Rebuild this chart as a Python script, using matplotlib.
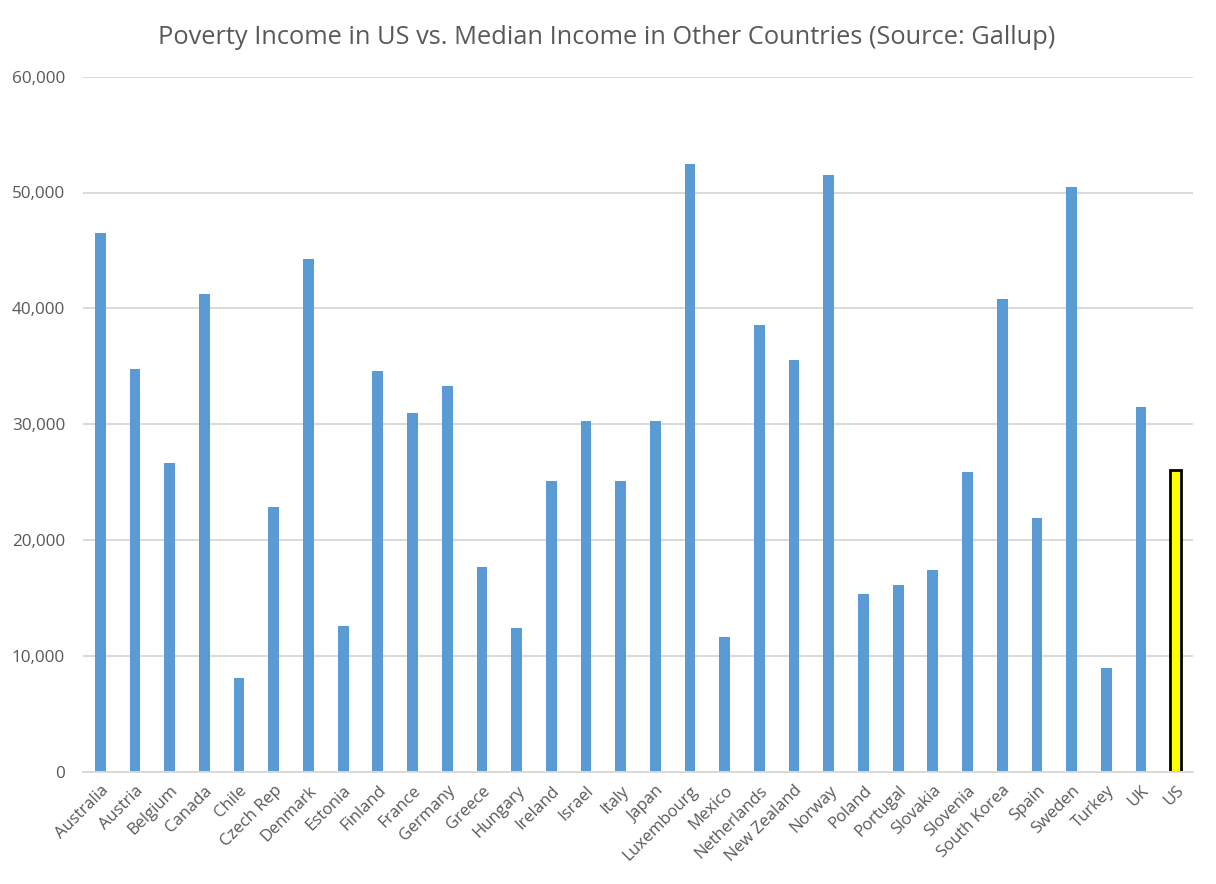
import matplotlib
matplotlib.use("Agg")
import matplotlib.pyplot as plt
import numpy as np

countries = ["Australia", "Austria", "Belgium", "Canada", "Chile", "Czech Rep", "Denmark",
             "Estonia", "Finland", "France", "Germany", "Greece", "Hungary", "Ireland",
             "Israel", "Italy", "Japan", "Luxembourg", "Mexico", "Netherlands", "New Zealand",
             "Norway", "Poland", "Portugal", "Slovakia", "Slovenia", "South Korea", "Spain",
             "Sweden", "Turkey", "UK", "US"]
incomes = [46500, 34800, 26600, 41200, 8100, 22800, 44300,
           12600, 34600, 31000, 33300, 17700, 12400, 25100,
           30300, 25100, 30300, 52500, 11600, 38600, 35500,
           51500, 15300, 16100, 17400, 25900, 40800, 21900,
           50500, 8900, 31500, 26000]
highlight = "US"

yticks = [0, 10000, 20000, 30000, 40000, 50000, 60000]
title = "Poverty Income in US vs. Median Income in Other Countries (Source: Gallup)"

plt.rcParams['font.family'] = ['Open Sans', 'DejaVu Sans']
txt = "#595959"
grid = "#d9d9d9"

fig = plt.figure(figsize=(12.16, 8.84), dpi=100)
ax = fig.add_axes([83/1216, 112.5/884, (1193-83)/1216, (771.5-76.7)/884])

x = np.arange(len(countries))
colors = ["#ffff00" if c == highlight else "#5b9bd5" for c in countries]
edges = ["black" if c == highlight else "none" for c in countries]
lws = [2 if c == highlight else 0 for c in countries]
ax.bar(x, incomes, width=0.31, color=colors, edgecolor=edges, linewidth=lws, zorder=3)

ax.set_xlim(-0.5, len(countries) - 0.5)
ax.set_ylim(0, 60000)
ax.set_yticks(yticks)
ax.set_yticklabels([f"{v:,}" for v in yticks])
ax.yaxis.grid(True, color=grid, linewidth=1.4, zorder=0)
ax.set_axisbelow(True)
for s in ["top", "right", "left"]:
    ax.spines[s].set_visible(False)
ax.spines["bottom"].set_color(grid)
ax.spines["bottom"].set_linewidth(1.4)
ax.spines["bottom"].set_zorder(4)

ax.set_xticks(x)
ax.set_xticklabels(countries, rotation=45, ha="right", rotation_mode="anchor")
ax.tick_params(axis="x", length=0, pad=8, labelsize=12, labelcolor=txt)
ax.tick_params(axis="y", length=0, pad=13, labelsize=12.3, labelcolor=txt)

fig.text(607/1216, 1 - 37/884, title, ha="center", va="center", fontsize=18.3, color=txt)

fig.savefig("out.png", dpi=100, facecolor="white")
